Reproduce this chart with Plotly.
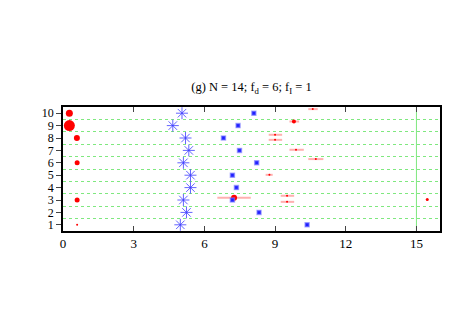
import plotly.graph_objects as go

# rows 1..10
rows = [1, 2, 3, 4, 5, 6, 7, 8, 9, 10]

# big red dots near zero
dot_x = [0.27, 0.27, 0.59, 0.6, 0.6, 0.6]
dot_y = [10, 9, 8, 6, 3, 1]
dot_size = [7, 11, 6, 5, 5, 2]

# blue asterisks (large) and small blue squares, one per row
star_x = [4.98, 5.24, 5.11, 5.41, 5.41, 5.11, 5.34, 5.2, 4.66, 5.05]
square_x = [10.36, 8.32, 7.19, 7.36, 7.19, 8.22, 7.49, 6.81, 7.43, 8.1]

# red points with horizontal error bars
err_x = [10.6, 9.8, 9.0, 9.0, 9.89, 10.73, 8.76, 9.51, 9.51, 15.46, 7.26]
err_y = [10.33, 9.33, 8.26, 7.85, 7.05, 6.3, 5.03, 3.34, 2.85, 3.04, 3.18]
err_minus = [0.19, 0.19, 0.27, 0.27, 0.28, 0.32, 0.16, 0.27, 0.27, 0.0, 0.71]
err_plus = [0.21, 0.22, 0.3, 0.3, 0.33, 0.32, 0.14, 0.3, 0.3, 0.0, 0.71]
err_size = [2, 4, 2, 2, 2, 2, 2, 2, 2, 3, 6]

x_ticks = [0, 3, 6, 9, 12, 15]
half_rows = [1.5, 2.5, 3.5, 4.5, 5.5, 6.5, 7.5, 8.5, 9.5]

RED = "#ff0000"
BLUE = "rgba(60,60,255,0.8)"
GREEN = "#7fe87f"

# the page body adds an 8px offset, so the figure is shrunk to compensate
W, H = 459, 319

fig = go.Figure()
fig.add_vline(x=15, line_color=GREEN, line_width=1, layer="below")
fig.add_trace(
    go.Scatter(
        x=err_x,
        y=err_y,
        mode="markers",
        marker={"color": RED, "size": err_size, "opacity": 1, "line": {"width": 0}},
        error_x={
            "type": "data",
            "symmetric": False,
            "array": err_plus,
            "arrayminus": err_minus,
            "color": "rgba(255,80,80,0.45)",
            "thickness": 2,
            "width": 0,
        },
    )
)
fig.add_trace(
    go.Scatter(
        x=square_x,
        y=rows,
        mode="markers",
        marker={"symbol": "square", "color": "#2020ff", "size": 4,
                "line": {"color": "rgba(120,120,255,0.6)", "width": 1.5}},
    )
)
fig.add_trace(
    go.Scatter(
        x=star_x,
        y=rows,
        mode="markers",
        marker={"symbol": "asterisk-open", "size": 10, "color": BLUE,
                "line": {"color": BLUE, "width": 1}},
    )
)
fig.add_trace(
    go.Scatter(
        x=dot_x,
        y=dot_y,
        mode="markers",
        marker={"color": RED, "size": dot_size, "opacity": 1, "line": {"width": 0}},
    )
)

fig.update_layout(
    width=W,
    height=H,
    margin={"l": 55, "r": 27, "t": 99, "b": 96},
    paper_bgcolor="white",
    plot_bgcolor="white",
    showlegend=False,
    font={"family": "Liberation Serif", "size": 13, "color": "black"},
    title={
        "text": "(g) N = 14; f<sub>d</sub> = 6; f<sub>I</sub> = 1",
        "x": 0.5,
        "xref": "paper",
        "y": 1 - 79 / H,
        "yref": "container",
        "yanchor": "middle",
        "font": {"size": 12.5},
    },
)
fig.update_xaxes(
    range=[0, 16],
    tickvals=x_ticks,
    ticks="inside",
    ticklen=5,
    showline=True,
    linecolor="black",
    linewidth=1.5,
    mirror="ticks",
    showgrid=False,
    zeroline=False,
    tickfont={"size": 13},
)
fig.update_yaxes(
    range=[0.5, 10.5],
    tickvals=rows,
    ticks="outside",
    ticklen=5,
    showline=True,
    linecolor="black",
    linewidth=1.5,
    mirror=True,
    showgrid=False,
    zeroline=False,
    tickfont={"size": 12},
    minor={"tickvals": half_rows, "showgrid": True, "gridcolor": GREEN,
           "griddash": "dot", "gridwidth": 1, "ticks": ""},
)

fig.write_html("out.html")
